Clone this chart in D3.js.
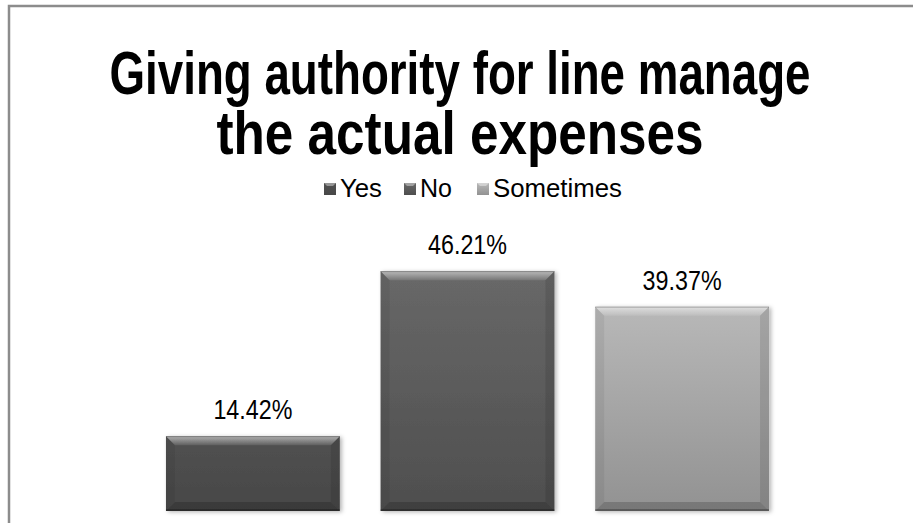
<!DOCTYPE html>
<html>
<head>
<meta charset="utf-8">
<script src="https://cdn.jsdelivr.net/npm/d3@7"></script>
<style>
html,body{margin:0;padding:0;background:#fff;}
svg{display:block;}
</style>
</head>
<body>
<svg id="chart" width="913" height="523"></svg>
<script>
const titleLines = ["Giving authority for line manage", "the actual expenses"];
const categories = ["Yes", "No", "Sometimes"];
const values = [14.42, 46.21, 39.37];
const labels = ["14.42%", "46.21%", "39.37%"];
const colorsTop = ["#515151", "#686868", "#b8b8b8"];
const colorsBottom = ["#474747", "#4e4e4e", "#929292"];

const W = 913, H = 523;
const svg = d3.select("#chart");
const defs = svg.append("defs");
const FONT = "'Liberation Sans Narrow','Arial Narrow','Liberation Sans',Arial,sans-serif";

// border (cropped at right/bottom)
svg.append("rect").attr("x", 9).attr("y", 6).attr("width", W + 20).attr("height", H + 20)
  .attr("fill", "none").attr("stroke", "#8c8c8c").attr("stroke-width", 2.5);

// title
const titleW = [701, 487];
const titleY = [94, 154];
svg.selectAll("text.title").data(titleLines).join("text")
  .attr("class", "title")
  .attr("x", 460).attr("y", (d, i) => titleY[i])
  .attr("text-anchor", "middle")
  .attr("font-family", FONT).attr("font-weight", "bold").attr("font-size", 62)
  .attr("textLength", (d, i) => titleW[i]).attr("lengthAdjust", "spacingAndGlyphs")
  .attr("fill", "#000").text(d => d);

// scales
const x = d3.scaleBand().domain(categories).range([144.5, 790.5]).paddingInner(0.19).paddingOuter(0.1);
const y = d3.scaleLinear().domain([0, 50]).range([511, 511 - 50 * 5.19]);

// gradients
categories.forEach((c, i) => {
  const g = defs.append("linearGradient").attr("id", "g" + i)
    .attr("x1", 0).attr("y1", 0).attr("x2", 0).attr("y2", 1);
  g.append("stop").attr("offset", 0).attr("stop-color", colorsTop[i]);
  g.append("stop").attr("offset", 1).attr("stop-color", colorsBottom[i]);
});
const hl = defs.append("linearGradient").attr("id", "hl").attr("x1", 0).attr("y1", 0).attr("x2", 0).attr("y2", 1);
hl.append("stop").attr("offset", 0).attr("stop-color", "#fff").attr("stop-opacity", 0.55);
hl.append("stop").attr("offset", 1).attr("stop-color", "#fff").attr("stop-opacity", 0.1);
const f = defs.append("filter").attr("id", "sh").attr("x", "-10%").attr("y", "-10%").attr("width", "130%").attr("height", "130%");
f.append("feDropShadow").attr("dx", 2).attr("dy", 1).attr("stdDeviation", 2).attr("flood-color", "#000").attr("flood-opacity", 0.3);

const b = 9;
const bars = svg.selectAll("g.bar").data(categories).join("g").attr("class", "bar");
bars.each(function (c, i) {
  const g = d3.select(this);
  const x0 = x(c), w = x.bandwidth(), y0 = y(values[i]), y1 = y(0);
  const x1 = x0 + w;
  g.append("rect").attr("x", x0).attr("y", y0).attr("width", w).attr("height", y1 - y0)
    .attr("fill", `url(#g${i})`).attr("filter", "url(#sh)");
  g.append("path").attr("d", `M${x0},${y0}L${x1},${y0}L${x1 - b},${y0 + b}L${x0 + b},${y0 + b}Z`)
    .attr("fill", "url(#hl)");
  g.append("path").attr("d", `M${x0},${y0}L${x0 + b},${y0 + b}L${x0 + b},${y1 - b}L${x0},${y1}Z`)
    .attr("fill", "#000").attr("opacity", 0.06);
  g.append("path").attr("d", `M${x1},${y0}L${x1 - b},${y0 + b}L${x1 - b},${y1 - b}L${x1},${y1}Z`)
    .attr("fill", "#000").attr("opacity", 0.1);
  g.append("path").attr("d", `M${x0},${y1}L${x1},${y1}L${x1 - b},${y1 - b}L${x0 + b},${y1 - b}Z`)
    .attr("fill", "#000").attr("opacity", 0.18);
  g.append("line").attr("x1", x0).attr("x2", x1).attr("y1", y0 + 0.5).attr("y2", y0 + 0.5)
    .attr("stroke", "#000").attr("stroke-opacity", 0.25);
  g.append("rect").attr("x", x0).attr("y", y1 - 2).attr("width", w).attr("height", 2)
    .attr("fill", "#000").attr("opacity", 0.25);
});

// data labels
const labW = [79, 79, 79];
svg.selectAll("text.lab").data(categories).join("text")
  .attr("class", "lab")
  .attr("x", c => x(c) + x.bandwidth() / 2)
  .attr("y", (c, i) => y(values[i]) - 17)
  .attr("text-anchor", "middle")
  .attr("font-family", FONT).attr("font-size", 27)
  .attr("textLength", (c, i) => labW[i]).attr("lengthAdjust", "spacingAndGlyphs")
  .attr("fill", "#000").text((c, i) => labels[i]);

// legend
const legX = [324, 404, 477];
const legTW = [42, 32, 129];
const leg = svg.selectAll("g.leg").data(categories).join("g").attr("class", "leg");
leg.append("rect").attr("x", (c, i) => legX[i]).attr("y", 183).attr("width", 12).attr("height", 12)
  .attr("fill", (c, i) => `url(#g${i})`);
leg.append("path").attr("d", (c, i) => { const a = legX[i]; return `M${a},183L${a + 12},183L${a + 9},186L${a + 3},186Z`; })
  .attr("fill", "#fff").attr("opacity", 0.4);
leg.append("text").attr("x", (c, i) => legX[i] + 16).attr("y", 197)
  .attr("font-family", FONT).attr("font-size", 26)
  .attr("textLength", (c, i) => legTW[i]).attr("lengthAdjust", "spacingAndGlyphs")
  .attr("fill", "#000").text(c => c);
</script>
</body>
</html>
